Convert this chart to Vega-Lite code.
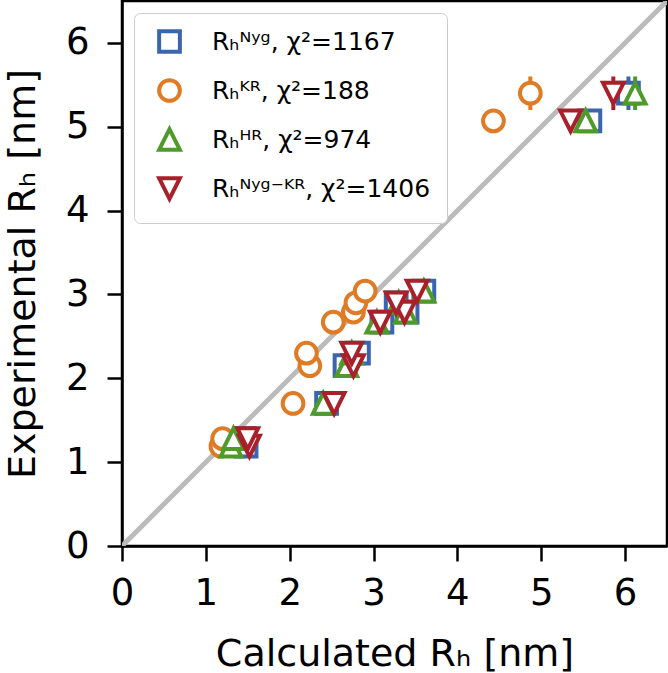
{
  "$schema": "https://vega.github.io/schema/vega-lite/v6.json",
  "width": 545,
  "height": 545,
  "autosize": {"type": "none"},
  "padding": {"left": 122, "top": 1, "right": 1, "bottom": 127},
  "background": "white",
  "config": {
    "font": "DejaVu Sans",
    "view": {"stroke": "black", "strokeWidth": 2.5},
    "axis": {
      "grid": false,
      "domainColor": "black",
      "domainWidth": 2.5,
      "tickColor": "black",
      "tickWidth": 2.5,
      "tickSize": 15,
      "labelFont": "DejaVu Sans",
      "labelFontSize": 37,
      "labelColor": "black",
      "labelFlush": false,
      "labelPadding": 16,
      "titleFont": "DejaVu Sans",
      "titleFontSize": 38,
      "titleFontWeight": "normal",
      "titleColor": "black"
    }
  },
  "datasets": {
    "diag": [{"calc": 0, "exp": 0}, {"calc": 6.5, "exp": 6.5}],
    "pts": [
      {"series": "Rₕᴺʸᵍ, χ²=1167", "calc": 1.48, "exp": 1.19, "lo": 1.14, "hi": 1.24},
      {"series": "Rₕᴺʸᵍ, χ²=1167", "calc": 1.46, "exp": 1.28, "lo": 1.22, "hi": 1.34},
      {"series": "Rₕᴺʸᵍ, χ²=1167", "calc": 2.44, "exp": 1.70, "lo": 1.65, "hi": 1.75},
      {"series": "Rₕᴺʸᵍ, χ²=1167", "calc": 2.66, "exp": 2.15, "lo": 2.07, "hi": 2.23},
      {"series": "Rₕᴺʸᵍ, χ²=1167", "calc": 2.82, "exp": 2.30, "lo": 2.22, "hi": 2.38},
      {"series": "Rₕᴺʸᵍ, χ²=1167", "calc": 3.10, "exp": 2.67, "lo": 2.61, "hi": 2.73},
      {"series": "Rₕᴺʸᵍ, χ²=1167", "calc": 3.40, "exp": 2.79, "lo": 2.71, "hi": 2.87},
      {"series": "Rₕᴺʸᵍ, χ²=1167", "calc": 3.27, "exp": 2.90, "lo": 2.80, "hi": 3.00},
      {"series": "Rₕᴺʸᵍ, χ²=1167", "calc": 3.60, "exp": 3.04, "lo": 2.94, "hi": 3.14},
      {"series": "Rₕᴺʸᵍ, χ²=1167", "calc": 5.58, "exp": 5.07, "lo": 4.99, "hi": 5.15},
      {"series": "Rₕᴺʸᵍ, χ²=1167", "calc": 6.04, "exp": 5.40, "lo": 5.20, "hi": 5.60},
      {"series": "Rₕᴷᴿ, χ²=188", "calc": 1.18, "exp": 1.19, "lo": 1.14, "hi": 1.24},
      {"series": "Rₕᴷᴿ, χ²=188", "calc": 1.20, "exp": 1.28, "lo": 1.22, "hi": 1.34},
      {"series": "Rₕᴷᴿ, χ²=188", "calc": 2.04, "exp": 1.70, "lo": 1.65, "hi": 1.75},
      {"series": "Rₕᴷᴿ, χ²=188", "calc": 2.24, "exp": 2.15, "lo": 2.07, "hi": 2.23},
      {"series": "Rₕᴷᴿ, χ²=188", "calc": 2.20, "exp": 2.30, "lo": 2.22, "hi": 2.38},
      {"series": "Rₕᴷᴿ, χ²=188", "calc": 2.52, "exp": 2.67, "lo": 2.61, "hi": 2.73},
      {"series": "Rₕᴷᴿ, χ²=188", "calc": 2.76, "exp": 2.79, "lo": 2.71, "hi": 2.87},
      {"series": "Rₕᴷᴿ, χ²=188", "calc": 2.79, "exp": 2.90, "lo": 2.80, "hi": 3.00},
      {"series": "Rₕᴷᴿ, χ²=188", "calc": 2.90, "exp": 3.04, "lo": 2.94, "hi": 3.14},
      {"series": "Rₕᴷᴿ, χ²=188", "calc": 4.43, "exp": 5.07, "lo": 4.99, "hi": 5.15},
      {"series": "Rₕᴷᴿ, χ²=188", "calc": 4.87, "exp": 5.40, "lo": 5.20, "hi": 5.60},
      {"series": "Rₕᴴᴿ, χ²=974", "calc": 1.30, "exp": 1.19, "lo": 1.14, "hi": 1.24},
      {"series": "Rₕᴴᴿ, χ²=974", "calc": 1.33, "exp": 1.28, "lo": 1.22, "hi": 1.34},
      {"series": "Rₕᴴᴿ, χ²=974", "calc": 2.40, "exp": 1.70, "lo": 1.65, "hi": 1.75},
      {"series": "Rₕᴴᴿ, χ²=974", "calc": 2.68, "exp": 2.15, "lo": 2.07, "hi": 2.23},
      {"series": "Rₕᴴᴿ, χ²=974", "calc": 2.74, "exp": 2.30, "lo": 2.22, "hi": 2.38},
      {"series": "Rₕᴴᴿ, χ²=974", "calc": 3.04, "exp": 2.67, "lo": 2.61, "hi": 2.73},
      {"series": "Rₕᴴᴿ, χ²=974", "calc": 3.38, "exp": 2.79, "lo": 2.71, "hi": 2.87},
      {"series": "Rₕᴴᴿ, χ²=974", "calc": 3.30, "exp": 2.90, "lo": 2.80, "hi": 3.00},
      {"series": "Rₕᴴᴿ, χ²=974", "calc": 3.60, "exp": 3.04, "lo": 2.94, "hi": 3.14},
      {"series": "Rₕᴴᴿ, χ²=974", "calc": 5.53, "exp": 5.07, "lo": 4.99, "hi": 5.15},
      {"series": "Rₕᴴᴿ, χ²=974", "calc": 6.12, "exp": 5.40, "lo": 5.20, "hi": 5.60},
      {"series": "Rₕᴺʸᵍ⁻ᴷᴿ, χ²=1406", "calc": 1.52, "exp": 1.19, "lo": 1.14, "hi": 1.24},
      {"series": "Rₕᴺʸᵍ⁻ᴷᴿ, χ²=1406", "calc": 1.50, "exp": 1.28, "lo": 1.22, "hi": 1.34},
      {"series": "Rₕᴺʸᵍ⁻ᴷᴿ, χ²=1406", "calc": 2.53, "exp": 1.70, "lo": 1.65, "hi": 1.75},
      {"series": "Rₕᴺʸᵍ⁻ᴷᴿ, χ²=1406", "calc": 2.76, "exp": 2.15, "lo": 2.07, "hi": 2.23},
      {"series": "Rₕᴺʸᵍ⁻ᴷᴿ, χ²=1406", "calc": 2.74, "exp": 2.30, "lo": 2.22, "hi": 2.38},
      {"series": "Rₕᴺʸᵍ⁻ᴷᴿ, χ²=1406", "calc": 3.08, "exp": 2.67, "lo": 2.61, "hi": 2.73},
      {"series": "Rₕᴺʸᵍ⁻ᴷᴿ, χ²=1406", "calc": 3.37, "exp": 2.79, "lo": 2.71, "hi": 2.87},
      {"series": "Rₕᴺʸᵍ⁻ᴷᴿ, χ²=1406", "calc": 3.27, "exp": 2.90, "lo": 2.80, "hi": 3.00},
      {"series": "Rₕᴺʸᵍ⁻ᴷᴿ, χ²=1406", "calc": 3.52, "exp": 3.04, "lo": 2.94, "hi": 3.14},
      {"series": "Rₕᴺʸᵍ⁻ᴷᴿ, χ²=1406", "calc": 5.35, "exp": 5.07, "lo": 4.99, "hi": 5.15},
      {"series": "Rₕᴺʸᵍ⁻ᴷᴿ, χ²=1406", "calc": 5.86, "exp": 5.40, "lo": 5.20, "hi": 5.60}
    ]
  },
  "layer": [
    {
      "data": {"name": "diag"},
      "mark": {"type": "line", "color": "#bbbbbb", "strokeWidth": 5, "clip": true},
      "encoding": {
        "x": {"field": "calc", "type": "quantitative", "scale": {"domain": [0, 6.5], "nice": false, "zero": false}, "axis": {"values": [0, 1, 2, 3, 4, 5, 6], "format": "d", "title": "Calculated Rₕ [nm]", "titlePadding": 24, "labelPadding": 14}},
        "y": {"field": "exp", "type": "quantitative", "scale": {"domain": [0, 6.5], "nice": false, "zero": false}, "axis": {"values": [0, 1, 2, 3, 4, 5, 6], "format": "d", "title": "Experimental Rₕ [nm]", "titlePadding": 23, "labelPadding": 18}}
      }
    },
    {
      "data": {"name": "pts"},
      "mark": {"type": "rule", "strokeWidth": 4},
      "encoding": {
        "x": {"field": "calc", "type": "quantitative"},
        "y": {"field": "lo", "type": "quantitative"},
        "y2": {"field": "hi"},
        "color": {"field": "series", "type": "nominal"}
      }
    },
    {
      "data": {"name": "pts"},
      "mark": {"type": "point", "filled": false, "fill": "white", "fillOpacity": 1, "strokeWidth": 4, "size": 430, "opacity": 1},
      "encoding": {
        "x": {"field": "calc", "type": "quantitative"},
        "y": {"field": "exp", "type": "quantitative"},
        "color": {
          "field": "series", "type": "nominal",
          "scale": {"domain": ["Rₕᴺʸᵍ, χ²=1167", "Rₕᴷᴿ, χ²=188", "Rₕᴴᴿ, χ²=974", "Rₕᴺʸᵍ⁻ᴷᴿ, χ²=1406"], "range": ["#3b65ad", "#e07b25", "#4e9a2b", "#a9202a"]},
          "legend": {
            "title": null, "orient": "top-left", "offset": 12, "padding": 16, "symbolOffset": 7,
            "fillColor": "white", "strokeColor": "#cccccc", "cornerRadius": 6,
            "symbolSize": 430, "symbolStrokeWidth": 4, "symbolFillColor": "white",
            "labelFont": "DejaVu Sans", "labelFontSize": 25, "labelColor": "black", "labelOffset": 30,
            "rowPadding": 12, "labelLimit": 400,
            "encode": {"legend": {"update": {"strokeWidth": {"value": 2.5}}}}
          }
        },
        "shape": {
          "field": "series", "type": "nominal",
          "scale": {"domain": ["Rₕᴺʸᵍ, χ²=1167", "Rₕᴷᴿ, χ²=188", "Rₕᴴᴿ, χ²=974", "Rₕᴺʸᵍ⁻ᴷᴿ, χ²=1406"], "range": ["square", "circle", "M0,-1L1,1L-1,1Z", "M0,1L1,-1L-1,-1Z"]}
        }
      }
    }
  ]
}
